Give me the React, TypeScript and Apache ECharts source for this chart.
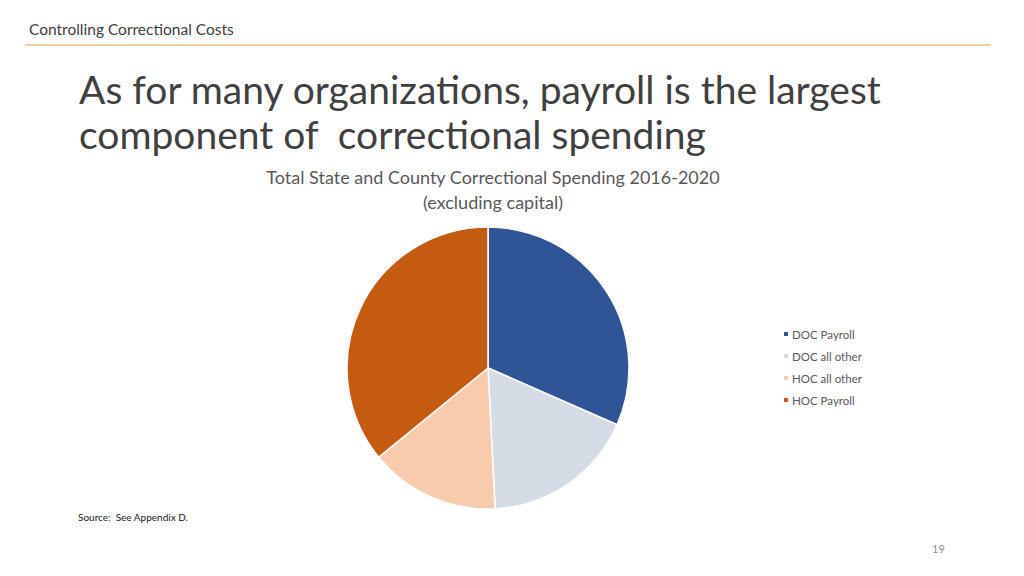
import React, { useEffect, useRef } from "react";
import * as echarts from "echarts";

const categories = ["DOC Payroll", "DOC all other", "HOC all other", "HOC Payroll"];
const shares = [31.6, 17.6, 14.9, 35.9];
const colors = ["#2F5597", "#D6DCE5", "#F8CBAD", "#C55A11"];

const headerText = "Controlling Correctional Costs";
const titleLines = ["As for many organizations, payroll is the largest", "component of  correctional spending"];
const chartTitle = "Total State and County Correctional Spending 2016-2020";
const chartSubtitle = "(excluding capital)";
const sourceText = "Source:  See Appendix D.";
const pageNumber = "19";

const FONT = "Lato, 'Open Sans', sans-serif";

export default function App() {
  const ref = useRef<HTMLDivElement>(null);
  useEffect(() => {
    if (!ref.current) return;
    const chart = echarts.init(ref.current, undefined, { renderer: "svg" });
    chart.setOption({
      animation: false,
      backgroundColor: "#ffffff",
      textStyle: { fontFamily: FONT },
      title: {
        text: chartTitle,
        subtext: chartSubtitle,
        left: 488,
        top: 163,
        textAlign: "center",
        itemGap: 7,
        textStyle: { fontFamily: FONT, fontSize: 18, fontWeight: "normal", color: "#595959" },
        subtextStyle: { fontFamily: FONT, fontSize: 18, color: "#595959" },
      },
      legend: {
        orient: "vertical",
        left: 777,
        top: 323,
        itemWidth: 6,
        itemHeight: 6,
        itemGap: 10,
        icon: "rect",
        data: categories,
        textStyle: { fontFamily: FONT, fontSize: 11.5, color: "#595959", padding: [0, 0, 0, -2] },
      },
      graphic: [
        {
          type: "text",
          left: 29,
          top: 21,
          style: { text: headerText, font: `15.5px ${FONT}`, fill: "#404040" },
        },
        {
          type: "line",
          shape: { x1: 25, y1: 45, x2: 991, y2: 45 },
          style: { stroke: "#E3A04A", lineWidth: 1.2 },
        },
        {
          type: "text",
          left: 79,
          top: 69,
          style: { text: titleLines[0], font: `39px ${FONT}`, fill: "#404040" },
        },
        {
          type: "text",
          left: 79,
          top: 114,
          style: { text: titleLines[1], font: `39px ${FONT}`, fill: "#404040" },
        },
        {
          type: "text",
          left: 78,
          top: 512,
          style: { text: sourceText, font: `10px ${FONT}`, fill: "#1a1a1a" },
        },
        {
          type: "text",
          left: 932,
          top: 543,
          style: { text: pageNumber, font: `11px ${FONT}`, fill: "#8C8C8C" },
        },
      ],
      series: [
        {
          type: "pie",
          center: [488, 368],
          radius: 141,
          startAngle: 90,
          clockwise: true,
          label: { show: false },
          labelLine: { show: false },
          itemStyle: { borderColor: "#ffffff", borderWidth: 1.5 },
          emphasis: { disabled: true },
          data: categories.map((name, i) => ({ name, value: shares[i], itemStyle: { color: colors[i] } })),
        },
      ],
    });
    return () => chart.dispose();
  }, []);
  return (
    <div
      ref={ref}
      style={{ position: "fixed", left: 0, top: 0, width: 1024, height: 576 }}
    />
  );
}
